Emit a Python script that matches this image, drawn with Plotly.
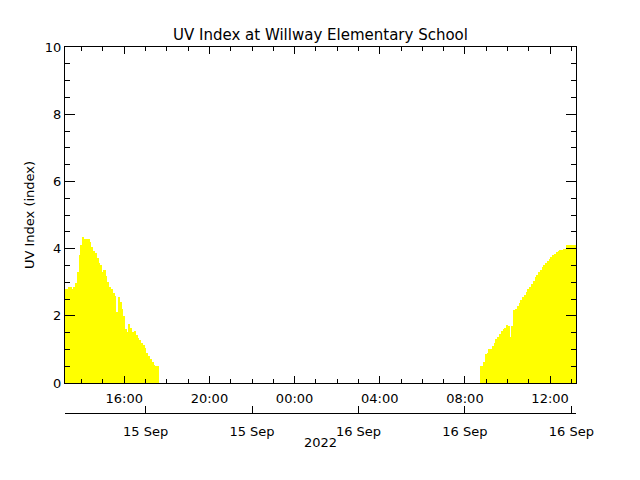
import pandas as pd
import plotly.graph_objects as go

# UV index readings, 5-minute steps
afternoon_start = "2022-09-15 13:15"
afternoon_uv = [2.79, 2.79, 2.87, 2.87, 2.79, 2.85, 2.97, 3.3, 3.81, 4.11,
                4.34, 4.29, 4.29, 4.29, 4.2, 4.05, 3.94, 3.87, 3.72, 3.56,
                3.5, 3.3, 3.36, 3.17, 3.02, 2.87, 2.79, 2.68, 2.6, 2.1,
                2.55, 2.42, 2.2, 2.0, 1.6, 1.53, 1.76, 1.63, 1.53, 1.55,
                1.42, 1.33, 1.28, 1.18, 1.13, 1.03, 0.9, 0.8, 0.72, 0.62,
                0.53, 0.5, 0.52]

morning_start = "2022-09-16 08:45"
morning_uv = [0.5, 0.5, 0.62, 0.85, 0.88, 1.0, 1.01, 1.1, 1.18, 1.3,
              1.38, 1.46, 1.54, 1.6, 1.63, 1.72, 1.7, 1.38, 1.7, 2.17,
              2.19, 2.29, 2.38, 2.47, 2.55, 2.63, 2.72, 2.79, 2.87, 2.96,
              3.05, 3.15, 3.21, 3.3, 3.37, 3.45, 3.52, 3.58, 3.64, 3.7,
              3.75, 3.8, 3.85, 3.89, 3.92, 3.96, 3.97, 3.98, 4.0, 4.11,
              4.11, 4.11, 4.11, 4.11]

x_range = ["2022-09-15 13:13", "2022-09-16 13:13"]
date_tick_times = ["2022-09-15 17:00", "2022-09-15 22:00", "2022-09-16 03:00",
                   "2022-09-16 08:00", "2022-09-16 13:00"]
date_tick_labels = ["15 Sep", "15 Sep", "16 Sep", "16 Sep", "16 Sep"]
year_label = "2022"

times = list(pd.date_range(afternoon_start, periods=len(afternoon_uv), freq="5min")) + \
        list(pd.date_range(morning_start, periods=len(morning_uv), freq="5min"))
uv = afternoon_uv + morning_uv

font = "DejaVu Sans"
hour_ms = 3600000

fig = go.Figure()
fig.add_trace(go.Bar(x=times, y=uv, width=300000, marker=dict(color="#ffff00", line=dict(width=0)),
                     showlegend=False))
# Invisible trace so the lower date axis is drawn
fig.add_trace(go.Scatter(x=x_range, y=[None, None], xaxis="x2", showlegend=False, hoverinfo="skip"))

fig.update_layout(
    width=640, height=480,
    margin=dict(l=65, r=64, t=47, b=67),
    paper_bgcolor="white", plot_bgcolor="white",
    bargap=0,
    font=dict(family=font, size=13, color="black"),
    title=dict(text="UV Index at Willway Elementary School", x=0.5, xanchor="center",
               xref="paper", y=1 - 35 / 480, yref="container", yanchor="middle",
               font=dict(family=font, size=15, color="black")),
    xaxis=dict(
        type="date", range=x_range, anchor="y",
        tickformat="%H:%M", dtick=4 * hour_ms, tick0="2022-09-15 00:00",
        ticks="inside", ticklen=7, tickcolor="black", tickwidth=1,
        minor=dict(dtick=hour_ms, tick0="2022-09-15 00:00", ticks="inside",
                   ticklen=4, tickcolor="black", showgrid=False),
        showline=True, linecolor="black", linewidth=1, mirror="ticks",
        showgrid=False, zeroline=False, ticklabelstandoff=3,
    ),
    xaxis2=dict(
        type="date", range=x_range, overlaying="x", anchor="free", position=0, side="bottom",
        tickmode="array", tickvals=date_tick_times, ticktext=date_tick_labels,
        ticks="inside", ticklen=7, tickcolor="black",
        showline=True, linecolor="black", linewidth=1,
        showgrid=False, zeroline=False, ticklabelstandoff=6,
    ),
    yaxis=dict(
        range=[0, 10], domain=[30 / 366, 1], dtick=2, tick0=0,
        ticks="inside", ticklen=10, tickcolor="black",
        minor=dict(dtick=0.5, ticks="inside", ticklen=5, tickcolor="black", showgrid=False),
        showline=True, linecolor="black", linewidth=1, mirror="ticks",
        showgrid=False, zeroline=False,
        title=dict(text="UV Index (index)", standoff=7, font=dict(family=font, size=13, color="black")),
    ),
    annotations=[dict(text=year_label, x=0.5, xref="paper", y=-29 / 366, yref="paper",
                      xanchor="center", yanchor="middle", showarrow=False,
                      font=dict(family=font, size=13, color="black"))],
)

# The page's default body margin would shift the figure by 8px
fig.write_html("out.html", config={"displayModeBar": False},
               post_script="document.body.style.margin='0';")
